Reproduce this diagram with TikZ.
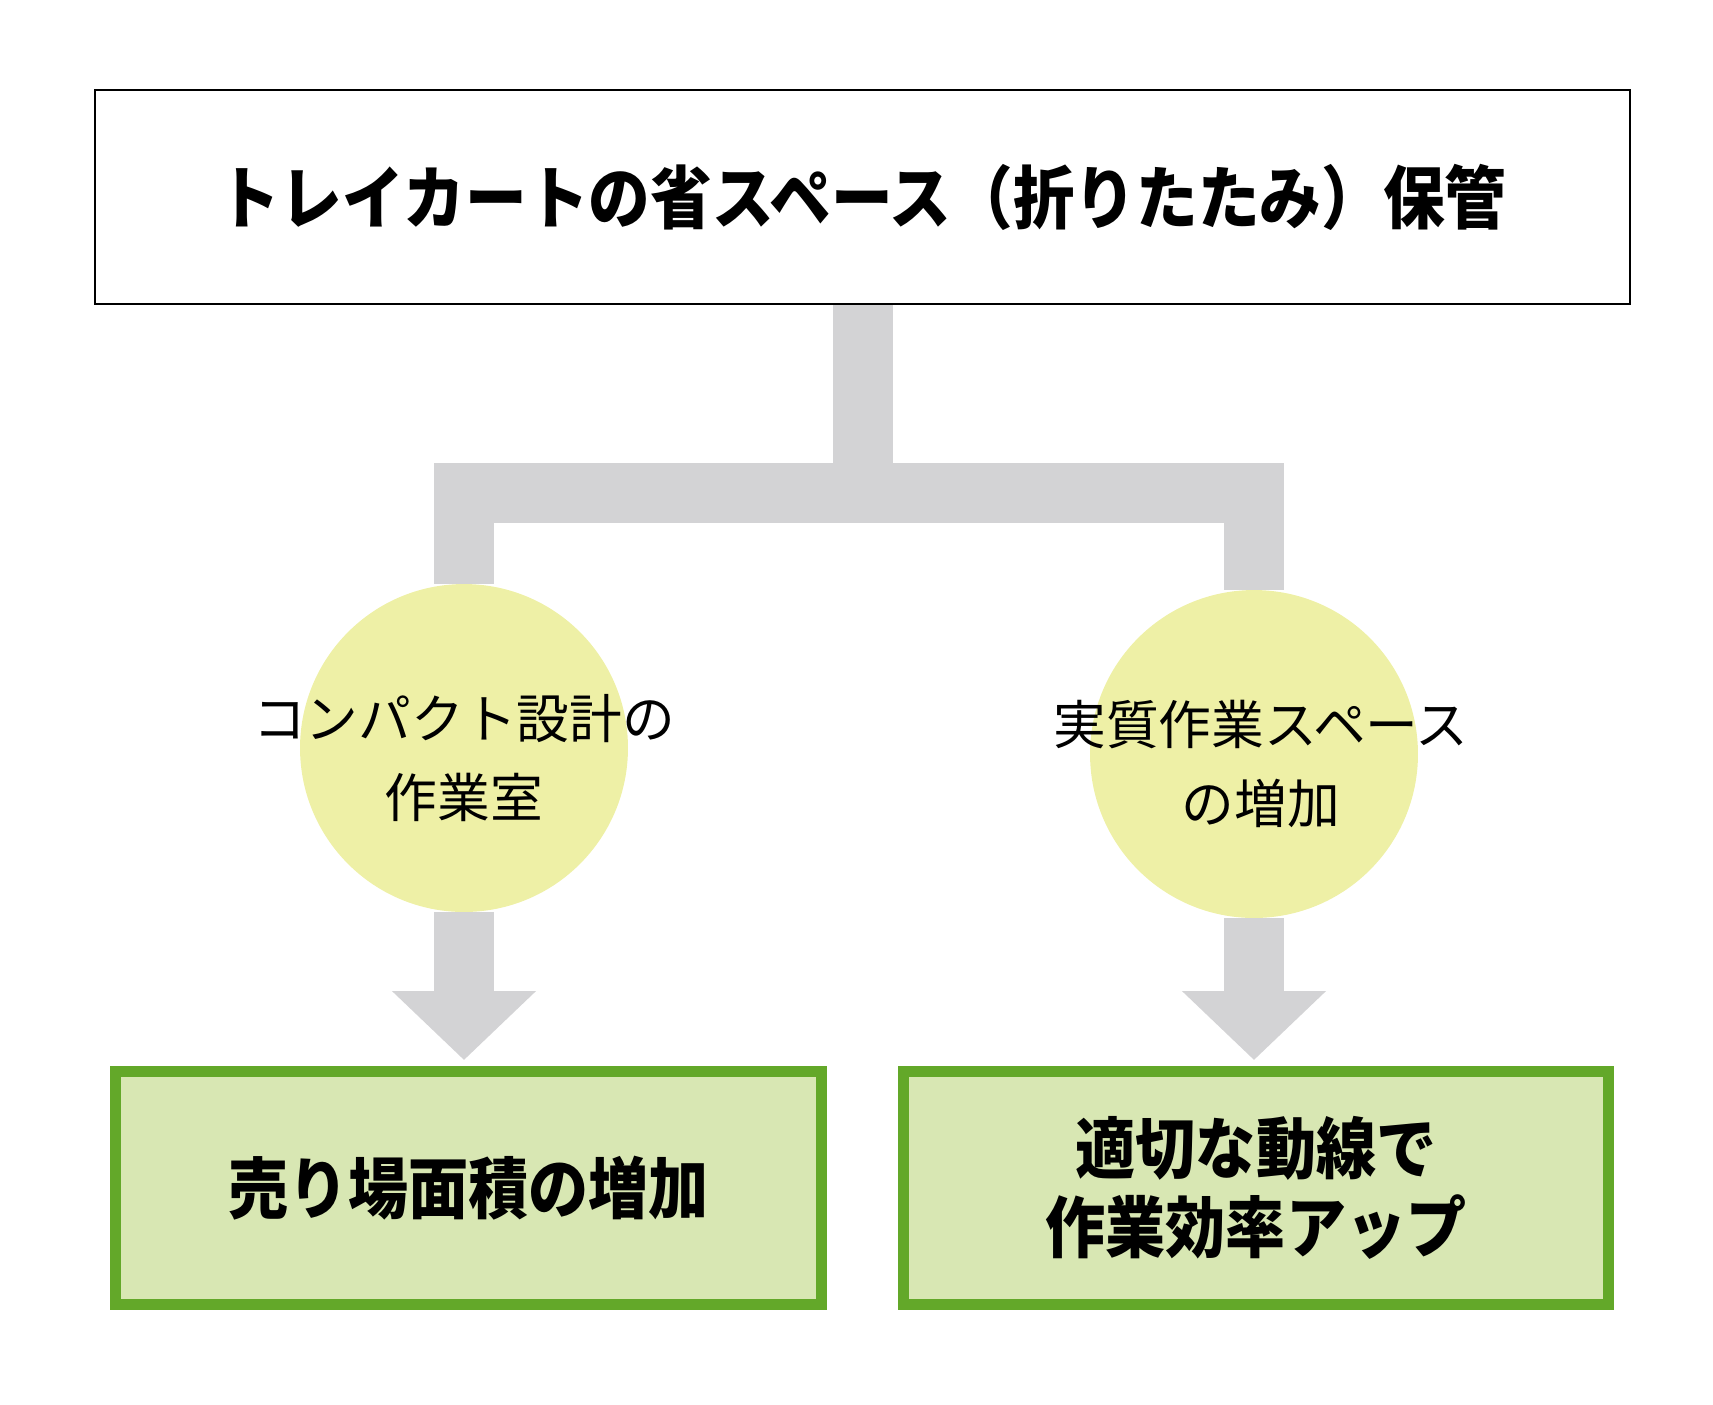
\documentclass[tikz,border=0pt]{standalone}
\usepackage{fontspec}
\newfontfamily\jpfont{Noto Sans CJK JP}
\newfontfamily\jpbold{Noto Sans CJK JP}[FakeStretch=0.9]
\usepackage{tikz}
\usetikzlibrary{arrows.meta,positioning,backgrounds}
\definecolor{bandgray}{RGB}{211,211,213}
\definecolor{leafgreen}{RGB}{99,168,41}
\definecolor{palegreen}{RGB}{216,231,179}
\definecolor{paleyellow}{RGB}{238,240,166}

\begin{document}
\begin{tikzpicture}[x=0.02cm,y=-0.02cm,line join=miter]
\tikzstyle{title}=[draw=black,line width=0.04cm,fill=white,minimum width=30.7cm,minimum height=4.3cm,inner sep=0pt,font=\jpbold\bfseries\fontsize{39}{45}\selectfont]
\tikzstyle{cause}=[circle,fill=paleyellow,minimum size=6.56cm,inner sep=0pt]
\tikzstyle{causetext}=[align=center,inner sep=0pt,font=\jpfont\fontsize{30}{45}\selectfont]
\tikzstyle{effect}=[draw=leafgreen,line width=0.22cm,fill=palegreen,minimum width=14.12cm,minimum height=4.66cm,inner sep=0pt,align=center,font=\jpbold\bfseries\fontsize{38}{45}\selectfont]
\tikzstyle{band}=[draw=bandgray,line width=1.2cm]
\tikzstyle{fatarrow}=[band,-{Triangle[width=2.8cm,length=1.38cm]},shorten >=0.12cm]
\useasboundingbox (0,0) rectangle (1713,1404);
\node[title] (storage) at (862.5,197) {トレイカートの省スペース（折りたたみ）保管};
\node[cause] (compact) at (464,748) {};
\node[cause] (space) at (1254,754) {};
\node[causetext] (compacttext) at ([yshift=-0.2cm]compact.center) {コンパクト設計の\\作業室};
\node[causetext] (spacetext) at ([xshift=0.14cm,yshift=-0.2cm]space.center) {実質作業スペース\\の増加};
\node[effect] (floor) at (468.5,1188) {売り場面積の増加};
\node[effect] (flow) at (1256,1188) {適切な動線で\\作業効率アップ};
\coordinate (split) at (862.5,492.5);
\begin{scope}[on background layer]
\draw[band] (storage.south) -- (split);
\draw[band] (compact) |- (split) -| (space);
\end{scope}
\draw[fatarrow] (compact.south) -- (compact.south |- floor.north);
\draw[fatarrow] (space.south) -- (space.south |- flow.north);
\end{tikzpicture}
\end{document}
